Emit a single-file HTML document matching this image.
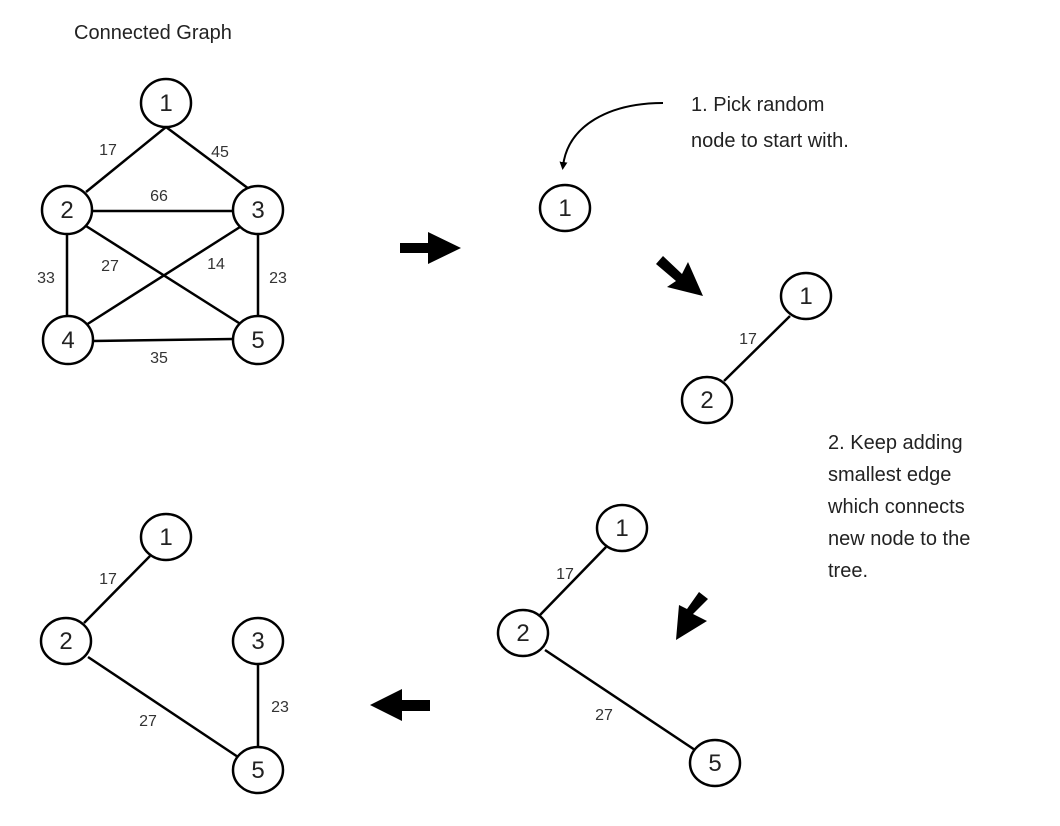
<!DOCTYPE html>
<html><head><style>
html,body{margin:0;padding:0;background:#fff;}
svg{display:block;font-family:"Liberation Sans",sans-serif;}
.n{fill:#fff;stroke:#000;stroke-width:2.5;}
.e{stroke:#000;stroke-width:2.5;}
.nt{font-size:24px;fill:#222;text-anchor:middle;}
.l{font-size:16px;fill:#333;text-anchor:middle;}
.t{font-size:20px;fill:#222;}
</style></head><body>
<svg width="1060" height="826" viewBox="0 0 1060 826">
<defs><marker id="ah" markerWidth="8" markerHeight="8" refX="4" refY="4" orient="auto" markerUnits="userSpaceOnUse"><path d="M0,0L8,4L0,8z" fill="#000"/></marker></defs>
<text x="74" y="39" class="t">Connected Graph</text>
<!-- graph 1 -->
<line class="e" x1="166" y1="127" x2="86" y2="192"/>
<line class="e" x1="166" y1="127" x2="249" y2="189"/>
<line class="e" x1="91" y1="211" x2="233" y2="211"/>
<line class="e" x1="86" y1="226" x2="250" y2="330"/>
<line class="e" x1="240" y1="227" x2="86" y2="325"/>
<line class="e" x1="67" y1="234" x2="67" y2="317"/>
<line class="e" x1="258" y1="234" x2="258" y2="317"/>
<line class="e" x1="92" y1="341" x2="233" y2="339"/>
<ellipse class="n" cx="166" cy="103" rx="25" ry="24"/><text class="nt" x="166" y="111">1</text>
<ellipse class="n" cx="67" cy="210" rx="25" ry="24"/><text class="nt" x="67" y="218">2</text>
<ellipse class="n" cx="258" cy="210" rx="25" ry="24"/><text class="nt" x="258" y="218">3</text>
<ellipse class="n" cx="68" cy="340" rx="25" ry="24"/><text class="nt" x="68" y="348">4</text>
<ellipse class="n" cx="258" cy="340" rx="25" ry="24"/><text class="nt" x="258" y="348">5</text>
<text class="l" x="108" y="155">17</text><text class="l" x="220" y="157">45</text>
<text class="l" x="159" y="201">66</text><text class="l" x="110" y="271">27</text>
<text class="l" x="216" y="269">14</text><text class="l" x="46" y="283">33</text>
<text class="l" x="278" y="283">23</text><text class="l" x="159" y="363">35</text>
<!-- right arrow -->
<path d="M400,243H428V232L461,248L428,264V253H400z" fill="#000"/>
<!-- step 1 -->
<text x="691" y="111" class="t">1. Pick random</text>
<text x="691" y="147" class="t">node to start with.</text>
<path d="M663,103C610,103 568,125 563,166" fill="none" stroke="#000" stroke-width="2" marker-end="url(#ah)"/>
<ellipse class="n" cx="565" cy="208" rx="25" ry="23"/><text class="nt" x="565" y="216">1</text>
<!-- diag arrow -->
<path d="M656,264L663,256L682,274L688,262L703,296L667,287L676,281z" fill="#000"/>
<!-- graph 2 -->
<line class="e" x1="790" y1="316" x2="724" y2="381"/>
<ellipse class="n" cx="806" cy="296" rx="25" ry="23"/><text class="nt" x="806" y="304">1</text>
<ellipse class="n" cx="707" cy="400" rx="25" ry="23"/><text class="nt" x="707" y="408">2</text>
<text class="l" x="748" y="344">17</text>
<!-- step 2 text -->
<text x="828" y="449" class="t">2. Keep adding</text>
<text x="828" y="481" class="t">smallest edge</text>
<text x="828" y="513" class="t">which connects</text>
<text x="828" y="545" class="t">new node to the</text>
<text x="828" y="577" class="t">tree.</text>
<!-- diag arrow 2 -->
<path d="M699,592L708,599L693,614L707,621L676,640L679,605L687,609z" fill="#000"/>
<!-- graph 3 -->
<line class="e" x1="606" y1="547" x2="540" y2="615"/>
<line class="e" x1="545" y1="650" x2="695" y2="750"/>
<ellipse class="n" cx="622" cy="528" rx="25" ry="23"/><text class="nt" x="622" y="536">1</text>
<ellipse class="n" cx="523" cy="633" rx="25" ry="23"/><text class="nt" x="523" y="641">2</text>
<ellipse class="n" cx="715" cy="763" rx="25" ry="23"/><text class="nt" x="715" y="771">5</text>
<text class="l" x="565" y="579">17</text><text class="l" x="604" y="720">27</text>
<!-- left arrow -->
<path d="M430,700H402V689L370,705L402,721V711H430z" fill="#000"/>
<!-- graph 4 -->
<line class="e" x1="150" y1="556" x2="84" y2="623"/>
<line class="e" x1="88" y1="657" x2="238" y2="757"/>
<line class="e" x1="258" y1="664" x2="258" y2="747"/>
<ellipse class="n" cx="166" cy="537" rx="25" ry="23"/><text class="nt" x="166" y="545">1</text>
<ellipse class="n" cx="66" cy="641" rx="25" ry="23"/><text class="nt" x="66" y="649">2</text>
<ellipse class="n" cx="258" cy="641" rx="25" ry="23"/><text class="nt" x="258" y="649">3</text>
<ellipse class="n" cx="258" cy="770" rx="25" ry="23"/><text class="nt" x="258" y="778">5</text>
<text class="l" x="108" y="584">17</text><text class="l" x="148" y="726">27</text>
<text class="l" x="280" y="712">23</text>
</svg>
</body></html>
